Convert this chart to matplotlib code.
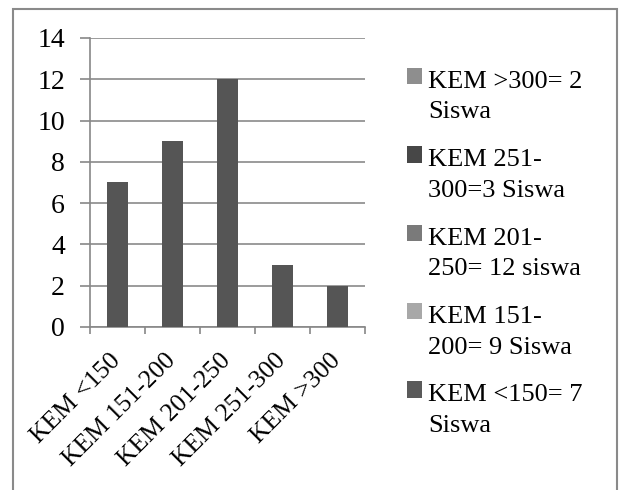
import matplotlib
matplotlib.use("Agg")
import matplotlib.pyplot as plt
from matplotlib.patches import Patch, Rectangle
from matplotlib.legend_handler import HandlerPatch

# KEM ranges and number of students in each
categories = ["KEM <150", "KEM 151-200", "KEM 201-250", "KEM 251-300", "KEM >300"]
counts = [7, 9, 12, 3, 2]

# legend entries, listed top to bottom
legend_labels = [
    "KEM >300= 2\nSiswa",
    "KEM 251-\n300=3 Siswa",
    "KEM 201-\n250= 12 siswa",
    "KEM 151-\n200= 9 Siswa",
    "KEM <150= 7\nSiswa",
]
legend_colors = ["#8e8e8e", "#474747", "#7a7a7a", "#a8a8a8", "#5a5a5a"]

plt.rcParams["font.family"] = ["Liberation Serif", "DejaVu Serif"]

fig = plt.figure(figsize=(6.22, 4.90), dpi=100)
ax = fig.add_axes([0.1447, 0.3327, 0.442, 0.5898])

x = range(len(categories))
ax.bar(x, counts, width=0.38, color="#555555", zorder=3)

ax.set_xlim(-0.5, len(categories) - 0.5)
ax.set_ylim(0, 14)
ax.set_yticks(range(0, 15, 2))
ax.tick_params(axis="y", labelsize=20, length=7, color="#888888", width=1.2, pad=11)
ax.yaxis.grid(True, color="#8a8a8a", linewidth=1.2, zorder=0)

ax.set_xticks(list(x))
ax.set_xticklabels(categories, rotation=45, ha="right", va="center",
                   rotation_mode="anchor", fontsize=18.5)
ax.tick_params(axis="x", length=0, pad=22)
ax.set_xticks([i + 0.5 for i in range(-1, len(categories))], minor=True)
ax.tick_params(axis="x", which="minor", length=5, color="#888888", width=1.2)

for side in ["top", "right"]:
    ax.spines[side].set_visible(False)
for side in ["left", "bottom"]:
    ax.spines[side].set_color("#888888")
    ax.spines[side].set_linewidth(1.2)


# legend swatch sits level with the first line of its two-line label
def first_line_square(legend, orig_handle, xdescent, ydescent, width, height, fontsize):
    return Rectangle((-xdescent, -ydescent + 0.77 * fontsize), width, height)


handles = [Patch(facecolor=c, edgecolor="none") for c in legend_colors]
leg = fig.legend(handles, legend_labels, loc="upper left",
                 bbox_to_anchor=(407 / 622, 1 - 71 / 490), borderpad=0, borderaxespad=0,
                 frameon=False, fontsize=19, labelspacing=0.98, handlelength=0.57,
                 handleheight=0.57, handletextpad=0.22,
                 handler_map={Patch: HandlerPatch(patch_func=first_line_square)})
for t in leg.get_texts():
    t.set_linespacing(1.5)

# chart border
fig.patches.append(Rectangle((13 / 622, -0.05), 604 / 622, 1.05 - 9 / 490,
                             transform=fig.transFigure, fill=False,
                             edgecolor="#8a8a8a", linewidth=1.5))

fig.savefig("out.png", dpi=100)
